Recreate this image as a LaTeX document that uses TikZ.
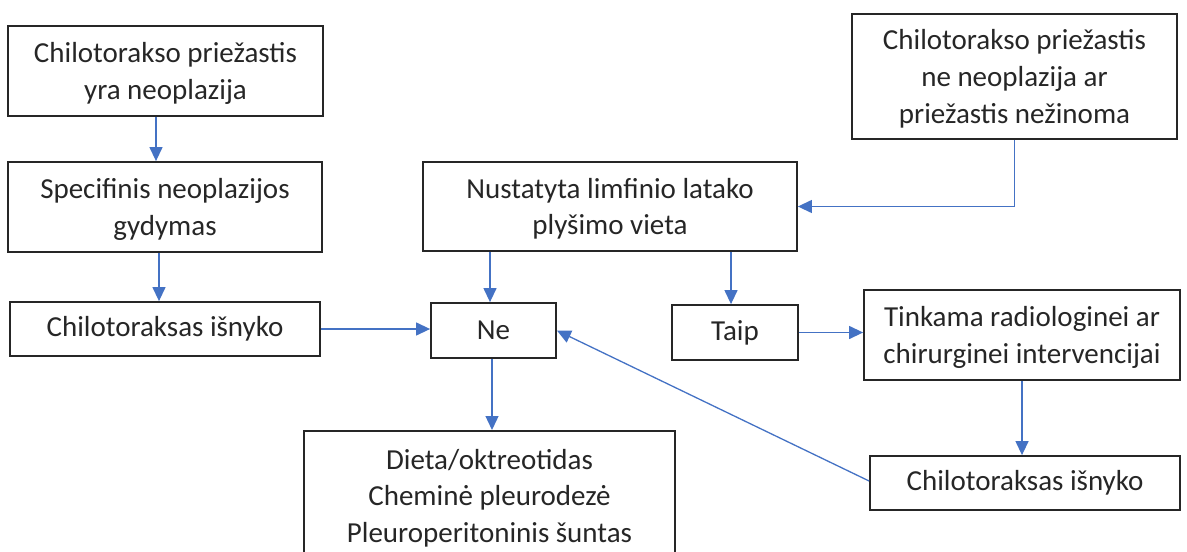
\documentclass[tikz,border=0pt]{standalone}
\usepackage{fontspec}
\setmainfont{Carlito}
\usetikzlibrary{arrows.meta,calc}
\definecolor{arrowblue}{HTML}{4472C4}
\definecolor{boxline}{HTML}{262626}
\begin{document}
\begin{tikzpicture}[x=0.5pt,y=-0.5pt,
  box/.style={draw=boxline,line width=0.9pt,text=boxline,align=center,
    font=\fontsize{14.5}{18.4}\selectfont,inner sep=0pt},
  multi/.style={text depth=0pt},
  wh/.style 2 args={minimum width=#1*0.5pt,minimum height=#2*0.5pt},
  conn/.style={draw=arrowblue,line width=0.65pt,-{Triangle[length=7pt,width=6.5pt]}}]
\useasboundingbox (0,0) rectangle (1187,551);
\node[box,multi,wh={315}{90}] (b1) at (165.5,71) {Chilotorakso priežastis\\yra neoplazija};
\node[box,multi,wh={314}{90}] (b2) at (165,207) {Specifinis neoplazijos\\gydymas};
\node[box,wh={310}{54}] (b3) at (165,329) {Chilotoraksas išnyko};
\node[box,wh={125}{55}] (ne) at (493.5,330.5) {Ne};
\node[box,multi,wh={374}{89}] (nus) at (610,206.5) {Nustatyta limfinio latako\\plyšimo vieta};
\node[box,multi,wh={325}{125}] (tr) at (1014.5,76.5) {Chilotorakso priežastis\\ne neoplazija ar\\priežastis nežinoma};
\node[box,wh={126}{55}] (taip) at (735,332.5) {Taip};
\node[box,multi,wh={316}{90}] (tink) at (1022,335) {Tinkama radiologinei ar\\chirurginei intervencijai};
\node[box,wh={310}{54}] (ris) at (1025,483) {Chilotoraksas išnyko};
\node[box,minimum width=185.5pt,anchor=north,inner ysep=9pt] (diet) at (489.5,430)
  {Dieta/oktreotidas\\Cheminė pleurodezė\\Pleuroperitoninis šuntas\\[6pt]};
% connectors
\draw[conn] ([xshift=-4.75pt]b1.south) -- ([xshift=-4.75pt]b1.south |- b2.north);
\draw[conn] ([xshift=-3pt]b2.south) -- ([xshift=-3pt]b2.south |- b3.north);
\draw[conn] (b3.east) -- (b3.east -| ne.west);
\draw[conn] ([xshift=-1.75pt]ne.north |- nus.south) -- ([xshift=-1.75pt]ne.north);
\draw[conn] ([xshift=-2pt]taip.north |- nus.south) -- ([xshift=-2pt]taip.north);
\draw[conn] (tr.south) |- (nus.east);
\draw[conn] (taip.east) -- (taip.east -| tink.west);
\draw[conn] (tink.south) -- (tink.south |- ris.north);
\draw[conn] ([yshift=1pt]ris.west) -- (ne.east);
\draw[conn] ([xshift=-0.75pt]ne.south) -- ([xshift=-0.75pt]ne.south |- diet.north);
\end{tikzpicture}
\end{document}
